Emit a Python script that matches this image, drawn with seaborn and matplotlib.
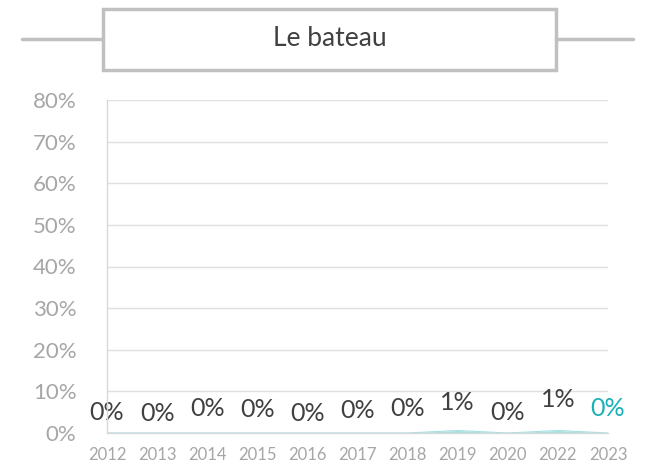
import matplotlib
matplotlib.use('Agg')
import matplotlib.pyplot as plt
import seaborn as sns
import pandas as pd
from matplotlib.patches import Rectangle
from matplotlib.lines import Line2D

years = ['2012', '2013', '2014', '2015', '2016', '2017', '2018', '2019', '2020', '2022', '2023']
share = [0.0, 0.0, 0.0, 0.0, 0.0, 0.0, 0.0, 0.006, 0.0, 0.006, 0.0]
labels = ['0%', '0%', '0%', '0%', '0%', '0%', '0%', '1%', '0%', '1%', '0%']
yticks = [0, 0.1, 0.2, 0.3, 0.4, 0.5, 0.6, 0.7, 0.8]

# little vertical jitter of the data labels, in points (as in the source)
label_dy = [15, 14, 18, 17, 14, 16, 18, 20, 15, 22, 18]

sns.set_style('white')
plt.rcParams['font.family'] = ['Lato', 'DejaVu Sans']

df = pd.DataFrame({'year': years, 'share': share})
df['pos'] = range(len(years))

fig = plt.figure(figsize=(6.52, 4.74), dpi=100)
ax = fig.add_axes([107/652, 1-433/474, (608-107)/652, (433-100)/474])

teal = '#1ab0b8'
ax.fill_between(df['pos'], df['share'], color='#a6e0e3', lw=0, zorder=1)
sns.lineplot(data=df, x='pos', y='share', color='#a6e0e3', lw=0.8, ax=ax, zorder=1)

ax.set_xlim(0, len(years)-1)
ax.set_ylim(0, 0.8)
ax.set_yticks(yticks)
ax.set_yticklabels([f'{int(round(t*100))}%' for t in yticks], color='#a6a6a6', fontsize=16)
ax.set_xticks(df['pos'])
ax.set_xticklabels(years, color='#a6a6a6', fontsize=12)
ax.tick_params(axis='x', length=5, color='#d9d9d9', width=1, pad=5)
ax.tick_params(axis='y', length=0, pad=22)
ax.grid(axis='y', color='#e0e0e0', lw=1)
ax.set_axisbelow(True)
for s in ['top', 'right']:
    ax.spines[s].set_visible(False)
for s in ['left', 'bottom']:
    ax.spines[s].set_color('#d9d9d9')
    ax.spines[s].set_linewidth(1)
    ax.spines[s].set_zorder(3)
ax.set_xlabel('')
ax.set_ylabel('')

for i, (v, lab) in enumerate(zip(share, labels)):
    c = teal if i == len(years)-1 else '#404040'
    ax.annotate(lab, (i, v), xytext=(0, label_dy[i]), textcoords='offset points',
                ha='center', va='center', fontsize=18, color=c, annotation_clip=False)

# title box with side lines
gray = '#c0c0c0'
fig.add_artist(Line2D([22/652, 103/652], [1-39/474]*2, color=gray, lw=2.5, transform=fig.transFigure))
fig.add_artist(Line2D([556/652, 633/652], [1-39/474]*2, color=gray, lw=2.5, transform=fig.transFigure))
fig.add_artist(Rectangle((103/652, 1-70/474), (556-103)/652, 61/474, transform=fig.transFigure,
                         fill=True, facecolor='white', edgecolor=gray, lw=2.5))
fig.text(330/652, 1-39/474, 'Le bateau', ha='center', va='center', fontsize=19, color='#404040')

fig.savefig('out.png', dpi=100)
